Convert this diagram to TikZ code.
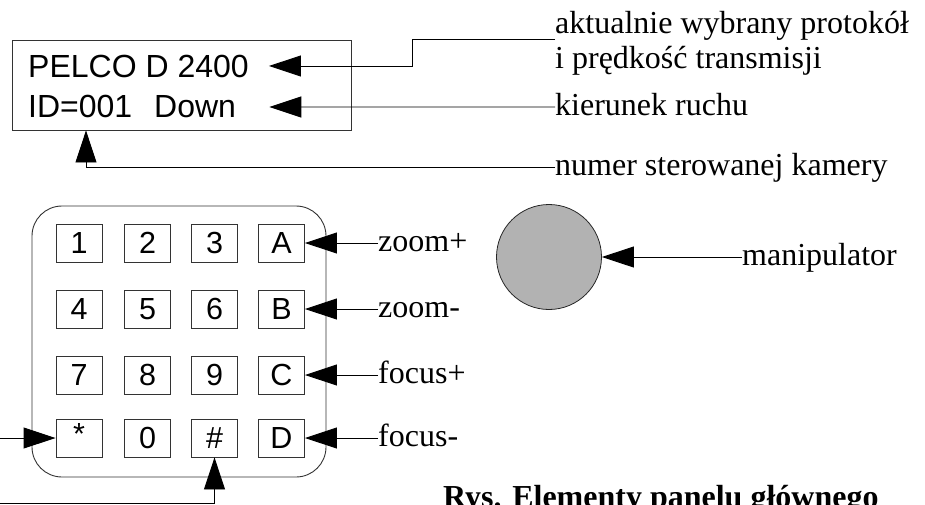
\documentclass[tikz,border=0pt]{standalone}
\usepackage{fontspec}
\setmainfont{Liberation Serif}
\newfontfamily\arialfont{Liberation Sans}
\usetikzlibrary{arrows.meta}

\tikzset{
  arr/.style={line width=0.9pt, -{Triangle[length=32pt,width=21pt]}},
  frame/.style={draw=black!80, line width=0.9pt},
  keybox/.style={frame, minimum width=46pt, minimum height=38pt, inner sep=0pt,
    font=\arialfont\fontsize{30.5}{31}\selectfont},
  lcdtxt/.style={inner sep=0pt, font=\arialfont\fontsize{32}{35}\selectfont},
  lbl/.style={inner sep=0pt, font=\fontsize{32}{35}\selectfont},
}

\begin{document}
\begin{tikzpicture}[x=1pt, y=-1pt]
\useasboundingbox (0,0) rectangle (925,504);
\clip (0,0) rectangle (925,504);

% display window
\node[frame, minimum width=339pt, minimum height=90pt, inner sep=0pt] (lcd) at (181.5,85) {};
\node[lcdtxt, anchor=base west] (pelco) at (28,77) {PELCO D 2400};
\node[lcdtxt, anchor=base west] (idline) at (28,117) {ID=001\hspace{22pt}Down};

% labels for the display
\node[lbl, anchor=base west] (akt) at (555,33) {aktualnie wybrany protokół};
\node[lbl, anchor=base west] (akt2) at (555,68) {i prędkość transmisji};
\node[lbl, anchor=base west] (kier) at (555,115.5) {kierunek ruchu};
\node[lbl, anchor=base west] (numer) at (555,175.5) {numer sterowanej kamery};

\draw[arr] ([yshift=-6pt]akt.base west) -- ++(-143,0) |- ([xshift=20pt]pelco.east);
\draw[arr] ([yshift=8.5pt]kier.base west) -- ([xshift=33pt,yshift=-1pt]idline.east);
\draw[arr] ([yshift=8.5pt]numer.base west) -| ([xshift=-95.5pt]lcd.south);

% keypad
\node[frame, rounded corners=30pt, minimum width=294pt, minimum height=271pt, inner sep=0pt] (keypad) at (179,341.5) {};

\node[keybox] (k1) at (79,243) {1};
\node[keybox] (k2) at (147.5,243) {2};
\node[keybox] (k3) at (214.5,243) {3};
\node[keybox] (kA) at (281.5,243) {A};
\node[keybox] (k4) at (79,309) {4};
\node[keybox] (k5) at (147.5,309) {5};
\node[keybox] (k6) at (214.5,309) {6};
\node[keybox] (kB) at (281.5,309) {B};
\node[keybox] (k7) at (79,375) {7};
\node[keybox] (k8) at (147.5,375) {8};
\node[keybox] (k9) at (214.5,375) {9};
\node[keybox] (kC) at (281.5,375) {C};
\node[keybox] (kstar) at (79,438) {\raisebox{8pt}{*}};
\node[keybox] (k0) at (147.5,438) {0};
\node[keybox] (khash) at (214.5,438) {\#};
\node[keybox] (kD) at (281.5,438) {D};

% labels for the keys
\node[lbl, anchor=base west] (zp) at (378,251.5) {zoom+};
\node[lbl, anchor=base west] (zm) at (378,317.5) {zoom-};
\node[lbl, anchor=base west] (fp) at (378,383.5) {focus+};
\node[lbl, anchor=base west] (fm) at (378,446.5) {focus-};

\draw[arr] ([yshift=8.5pt]zp.base west) -- (kA.east);
\draw[arr] ([yshift=8.5pt]zm.base west) -- (kB.east);
\draw[arr] ([yshift=8.5pt]fp.base west) -- (kC.east);
\draw[arr] ([yshift=8.5pt]fm.base west) -- (kD.east);

% leads entering from the left edge
\coordinate (starIn) at (0,438);
\coordinate (hashIn) at (0,503);
\draw[arr] (starIn) -- (kstar.west);
\draw[arr] (hashIn) -| (khash.south);

% manipulator
\node[draw=black!85, line width=0.8pt, fill=black!30, circle, minimum size=105pt, inner sep=0pt] (manip) at (549,257) {};
\node[lbl, anchor=base west] (manlbl) at (742,265.5) {manipulator};
\draw[arr] ([yshift=8.5pt]manlbl.base west) -- (manip.east);

% caption
\node[lbl, anchor=base west, font=\bfseries\fontsize{32}{35}\selectfont] (caption) at (443,507) {Rys. Elementy panelu głównego};
\end{tikzpicture}
\end{document}
